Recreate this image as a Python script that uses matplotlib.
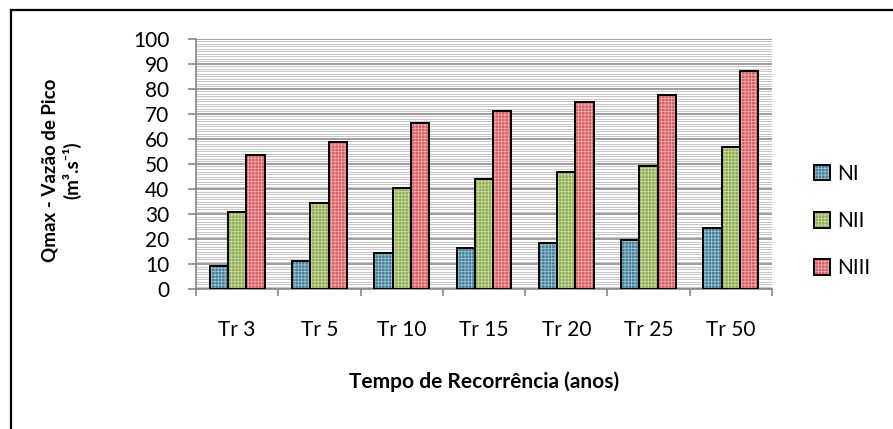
import matplotlib
matplotlib.use("Agg")
import matplotlib.pyplot as plt
from matplotlib.patches import Patch
from matplotlib.legend_handler import HandlerTuple
from matplotlib.lines import Line2D
import numpy as np

categories = ["Tr 3", "Tr 5", "Tr 10", "Tr 15", "Tr 20", "Tr 25", "Tr 50"]
ni = [9.3, 11.4, 14.6, 16.6, 18.4, 19.8, 24.6]
nii = [30.7, 34.6, 40.2, 44.0, 46.8, 49.2, 56.7]
niii = [53.7, 58.9, 66.4, 71.2, 74.8, 77.6, 87.1]
series_names = ["NI", "NII", "NIII"]

STYLE = {
    "NI": ("#3f7d94", "#9fc3d2"),
    "NII": ("#8fab55", "#c9dc9f"),
    "NIII": ("#d95b60", "#f0aeb0"),
}

plt.rcParams.update({
    "font.family": ["Lato", "DejaVu Sans"],
    "hatch.linewidth": 0.6,
})

fig = plt.figure(figsize=(8.93, 4.29), dpi=100)
ax = fig.add_axes([196 / 893, 1 - 289 / 429, (772 - 196) / 893, (289 - 39) / 429])

x = np.arange(len(categories))
width = 0.222
handles = []
for offset, name, values in zip((-width, 0, width), series_names, (ni, nii, niii)):
    base, light = STYLE[name]
    ax.bar(x + offset, values, width, color=base, edgecolor=light, hatch="+++++",
           linewidth=0, zorder=3)
    ax.bar(x + offset, values, width, fill=False, edgecolor="black", linewidth=1.4, zorder=4)
    handles.append((Patch(facecolor=base, edgecolor=light, hatch="+++++", linewidth=0),
                    Patch(fill=False, edgecolor="black", linewidth=1.4)))

ax.set_ylim(0, 100)
ax.set_xlim(-0.5, len(categories) - 0.5)
ax.set_yticks(np.arange(0, 101, 10))
ax.set_yticks(np.arange(0, 101, 1), minor=True)
ax.grid(True, which="minor", axis="y", color="#c8c8c8", linewidth=0.8, zorder=0)
ax.grid(True, which="major", axis="y", color="#8c8c8c", linewidth=1.2, zorder=1)
ax.tick_params(axis="y", which="minor", length=0)
ax.tick_params(axis="y", which="major", length=5.8, width=1.2, color="#868686",
               labelsize=15, pad=13.5)

ax.set_xticks(np.arange(-0.5, len(categories), 1))
ax.set_xticklabels([])
ax.set_xticks(x, minor=True)
ax.set_xticklabels(categories, minor=True)
ax.tick_params(axis="x", which="major", length=5, width=1.2, color="#868686")
ax.tick_params(axis="x", which="minor", length=0, labelsize=15, pad=22)

for side in ("top", "right"):
    ax.spines[side].set_visible(False)
for side in ("left", "bottom"):
    ax.spines[side].set_color("#868686")
    ax.spines[side].set_linewidth(1.2)

ax.set_ylabel("Qmax - Vazão de Pico\n(m³.s⁻¹)", fontsize=13.5, fontweight="bold")
ax.yaxis.set_label_coords((81 - 196) / 576, (289 - 170) / 250)
ax.set_xlabel("Tempo de Recorrência (anos)", fontsize=15, fontweight="bold")
ax.xaxis.set_label_coords(0.5, (289 - 371) / 250)

fig.legend(handles, series_names, handler_map={tuple: HandlerTuple(ndivide=1)},
           loc="center left", bbox_to_anchor=(814 / 893, 1 - 221 / 429),
           frameon=False, fontsize=15, handlelength=0.77, handleheight=0.77,
           handletextpad=0.34, labelspacing=1.3, borderpad=0, borderaxespad=0)

# chart border (only the left and top edges are in frame)
fig.add_artist(Line2D([11 / 893, 11 / 893], [0, 1 - 10 / 429], color="black", linewidth=1.6))
fig.add_artist(Line2D([11 / 893, 1], [1 - 10 / 429, 1 - 10 / 429], color="black", linewidth=1.6))

fig.savefig("out.png", dpi=100)
